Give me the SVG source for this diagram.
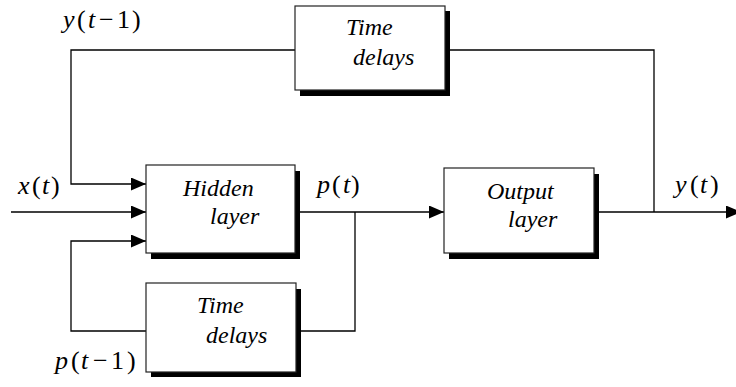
<svg xmlns="http://www.w3.org/2000/svg" width="736" height="387" viewBox="0 0 736 387">
<style>
.box{fill:#fff;stroke:#222;stroke-width:1.2}
.shadow{fill:#000}
.wire{fill:none;stroke:#000;stroke-width:1.3}
</style>
<defs>
<marker id="arr" markerUnits="userSpaceOnUse" markerWidth="15" markerHeight="13" refX="15" refY="6.5" orient="auto">
<path d="M0,0 L15,6.5 L0,13 z" fill="#000"/>
</marker>
</defs>
<g id="connectors">
<polyline class="wire" points="295,50 71,50 71,184 146,184" marker-end="url(#arr)"/>
<polyline class="wire" points="11,212 146,212" marker-end="url(#arr)"/>
<polyline class="wire" points="146,331 71,331 71,241 146,241" marker-end="url(#arr)"/>
<polyline class="wire" points="295,212 444,212" marker-end="url(#arr)"/>
<polyline class="wire" points="355,212 355,331 296,331"/>
<polyline class="wire" points="594,212 741,212" marker-end="url(#arr)"/>
<polyline class="wire" points="654,212 654,50 445,50"/>
</g>
<g id="time-delays-top">
<rect class="shadow" x="300" y="11" width="150" height="85"/>
<rect class="box" x="295" y="6" width="150" height="84"/>
<text x="346" y="35" font-family="Liberation Serif, serif" font-size="24" font-style="italic">Time</text>
<text x="353" y="65" font-family="Liberation Serif, serif" font-size="24" font-style="italic">delays</text>
</g>
<g id="hidden-layer">
<rect class="shadow" x="151" y="171" width="149" height="88"/>
<rect class="box" x="146" y="165" width="149" height="88"/>
<text x="183" y="196" font-family="Liberation Serif, serif" font-size="24" font-style="italic">Hidden</text>
<text x="210" y="224" font-family="Liberation Serif, serif" font-size="24" font-style="italic">layer</text>
</g>
<g id="time-delays-bottom">
<rect class="shadow" x="151" y="289" width="150" height="88"/>
<rect class="box" x="146" y="283" width="150" height="89"/>
<text x="197" y="313" font-family="Liberation Serif, serif" font-size="24" font-style="italic">Time</text>
<text x="206" y="343" font-family="Liberation Serif, serif" font-size="24" font-style="italic">delays</text>
</g>
<g id="output-layer">
<rect class="shadow" x="449" y="174" width="150" height="85"/>
<rect class="box" x="444" y="168" width="150" height="85"/>
<text x="487" y="199" font-family="Liberation Serif, serif" font-size="24" font-style="italic">Output</text>
<text x="508" y="227" font-family="Liberation Serif, serif" font-size="24" font-style="italic">layer</text>
</g>
<g id="labels">
<text y="28" font-family="Liberation Serif, serif" font-size="26"><tspan x="63" font-style="italic">y</tspan><tspan x="77">(</tspan><tspan x="88" font-style="italic">t</tspan><tspan x="99">&#8722;</tspan><tspan x="117">1</tspan><tspan x="132">)</tspan></text>
<text y="194" font-family="Liberation Serif, serif" font-size="26"><tspan x="18" font-style="italic">x</tspan><tspan x="32">(</tspan><tspan x="42" font-style="italic">t</tspan><tspan x="51">)</tspan></text>
<text y="193" font-family="Liberation Serif, serif" font-size="26"><tspan x="317" font-style="italic">p</tspan><tspan x="332">(</tspan><tspan x="343" font-style="italic">t</tspan><tspan x="351">)</tspan></text>
<text y="193" font-family="Liberation Serif, serif" font-size="26"><tspan x="675" font-style="italic">y</tspan><tspan x="690">(</tspan><tspan x="700" font-style="italic">t</tspan><tspan x="710">)</tspan></text>
<text y="369" font-family="Liberation Serif, serif" font-size="26"><tspan x="55" font-style="italic">p</tspan><tspan x="71">(</tspan><tspan x="81" font-style="italic">t</tspan><tspan x="93">&#8722;</tspan><tspan x="111">1</tspan><tspan x="127">)</tspan></text>
</g>
</svg>
